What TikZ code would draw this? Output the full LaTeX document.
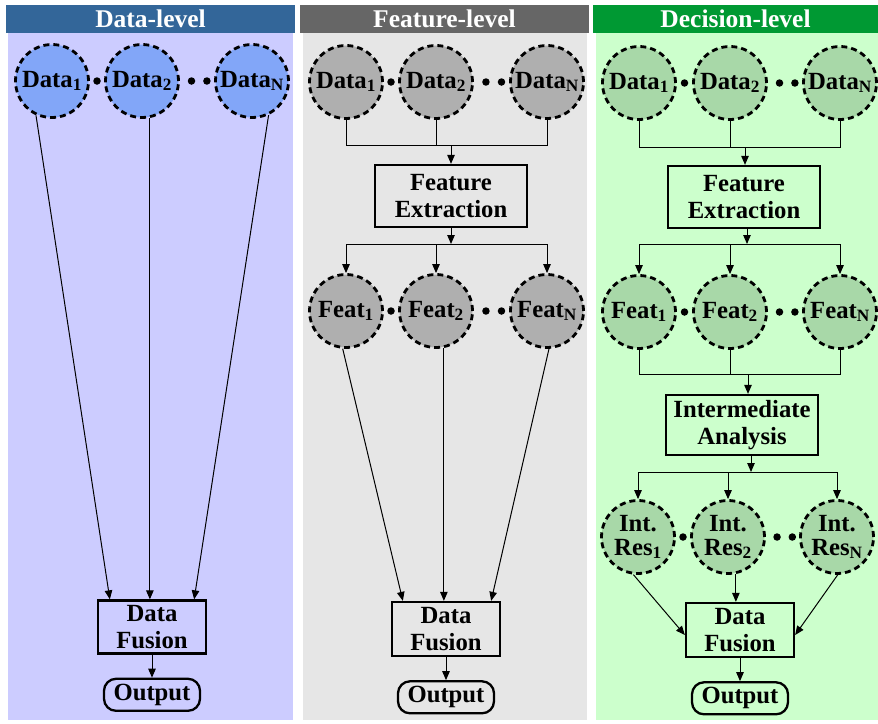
\documentclass[tikz,border=0pt]{standalone}
\usepackage{fontspec}
\setmainfont{Liberation Serif}
\usetikzlibrary{positioning,arrows.meta,calc}

\definecolor{datahead}{HTML}{336699}
\definecolor{databody}{HTML}{CCCCFF}
\definecolor{datacirc}{HTML}{82A6F8}
\definecolor{feathead}{HTML}{666666}
\definecolor{featbody}{HTML}{E6E6E6}
\definecolor{featcirc}{HTML}{AFAFAF}
\definecolor{dechead}{HTML}{009933}
\definecolor{decbody}{HTML}{CCFFCC}
\definecolor{deccirc}{HTML}{A8D8A8}

\tikzset{
  every node/.style={font=\bfseries\fontsize{24.7}{27}\selectfont},
  head/.style={text=white, minimum height=28pt, inner sep=0pt,
    font=\bfseries\fontsize{25.5}{27}\selectfont},
  src/.style={circle, draw, line width=2.8pt, dash pattern=on 6pt off 4pt,
    minimum size=73pt, inner sep=0pt, align=center,
    font=\bfseries\fontsize{24.7}{24}\selectfont},
  dotmark/.style={circle, fill=black, minimum size=7.5pt, inner sep=0pt},
  procbox/.style={draw, line width=2.3pt, align=center, inner sep=2pt},
  outbox/.style={draw, line width=2.3pt, rounded corners=12pt,
    minimum width=96pt, minimum height=32pt, inner sep=0pt},
  link/.style={line width=1pt},
  arr/.style={line width=1pt, -{Triangle[length=9pt,width=7.5pt]}}
}

\begin{document}
\begin{tikzpicture}[x=1pt, y=-1pt, node distance=23pt]

\useasboundingbox[fill=white] (0,0) rectangle (878,723);

% panel backgrounds
\fill[databody] (8,33) rectangle (293,720);
\fill[featbody] (303,33) rectangle (587,720);
\fill[decbody] (596,33) rectangle (878,720);

% headers
\node[head, fill=datahead, minimum width=289pt] (hdata) at (150.5,19) {Data-level};
\node[head, fill=feathead, minimum width=289pt] (hfeat) at (444.5,19) {Feature-level};
\node[head, fill=dechead, minimum width=285pt] (hdec) at (735.5,19) {Decision-level};

% ---------- Data-level ----------
\node[src, fill=datacirc] (dd1) at (52,81) {Data\textsubscript{1}};
\node[src, fill=datacirc] (dd2) at (142,81) {Data\textsubscript{2}};
\node[src, fill=datacirc] (dd3) at (252,81) {Data\textsubscript{N}};
\node[dotmark] (ddot1) at ($(dd1)!0.5!(dd2)$) {};
\node[dotmark] (ddot2) at ($(dd2)!0.45!(dd3)$) {};
\node[dotmark] (ddot3) at ($(dd2)!0.59!(dd3)$) {};

\node[procbox, minimum width=108pt, minimum height=53pt] (dfus) at (152,627) {Data\\Fusion};
\node[outbox, below=of dfus] (dout) {Output};

\draw[arr] (dd1.245) -- ([xshift=13pt]dfus.north west);
\draw[arr] (dd2.282) -- (dd2.282 |- dfus.north);
\draw[arr] (dd3.296) -- ([xshift=-13pt]dfus.north east);
\draw[arr] (dfus) -- (dout);

% ---------- Feature-level ----------
\node[src, fill=featcirc] (fd1) at (346,82) {Data\textsubscript{1}};
\node[src, fill=featcirc] (fd2) at (436,82) {Data\textsubscript{2}};
\node[src, fill=featcirc] (fd3) at (547,82) {Data\textsubscript{N}};
\node[dotmark] (fdot1) at ($(fd1)!0.5!(fd2)$) {};
\node[dotmark] (fdot2) at ($(fd2)!0.45!(fd3)$) {};
\node[dotmark] (fdot3) at ($(fd2)!0.59!(fd3)$) {};

\node[procbox, minimum width=152pt, minimum height=62pt] (fext) at (451,196) {Feature\\Extraction};
\coordinate (fbusA) at (451,145);
\coordinate (fbusB) at (451,244);

\node[src, fill=featcirc] (ff1) at (346,311) {Feat\textsubscript{1}};
\node[src, fill=featcirc] (ff2) at (436,311) {Feat\textsubscript{2}};
\node[src, fill=featcirc] (ff3) at (547,311) {Feat\textsubscript{N}};
\node[dotmark] (ffdot1) at ($(ff1)!0.5!(ff2)$) {};
\node[dotmark] (ffdot2) at ($(ff2)!0.45!(ff3)$) {};
\node[dotmark] (ffdot3) at ($(ff2)!0.59!(ff3)$) {};

\node[procbox, minimum width=108pt, minimum height=54pt] (ffus) at (446,629) {Data\\Fusion};
\node[outbox, below=of ffus] (fout) {Output};

\draw[link] (fd1.south) |- (fd3.south |- fbusA) -- (fd3.south);
\draw[link] (fd2.south) -- (fd2.south |- fbusA);
\draw[arr] (fbusA) -- (fext.north);
\draw[arr] (fext.south) -- (fext.south |- fbusB);
\draw[link] (ff1.north |- fbusB) -- (ff3.north |- fbusB);
\draw[arr] (ff1.north |- fbusB) -- (ff1.north);
\draw[arr] (ff2.north |- fbusB) -- (ff2.north);
\draw[arr] (ff3.north |- fbusB) -- (ff3.north);

\draw[arr] (ff1.265) -- ([xshift=12pt]ffus.north west);
\draw[arr] (ff2.282) -- (ff2.282 |- ffus.north);
\draw[arr] (ff3.273) -- ([xshift=-10pt]ffus.north east);
\draw[arr] (ffus) -- (fout);

% ---------- Decision-level ----------
\node[src, fill=deccirc] (cd1) at (639,83) {Data\textsubscript{1}};
\node[src, fill=deccirc] (cd2) at (730,83) {Data\textsubscript{2}};
\node[src, fill=deccirc] (cd3) at (840,83) {Data\textsubscript{N}};
\node[dotmark] (cdot1) at ($(cd1)!0.5!(cd2)$) {};
\node[dotmark] (cdot2) at ($(cd2)!0.45!(cd3)$) {};
\node[dotmark] (cdot3) at ($(cd2)!0.59!(cd3)$) {};

\node[procbox, minimum width=152pt, minimum height=62pt] (cext) at (744,197) {Feature\\Extraction};
\coordinate (cbusA) at (745,147);
\coordinate (cbusB) at (747,244);

\node[src, fill=deccirc] (cf1) at (639,312) {Feat\textsubscript{1}};
\node[src, fill=deccirc] (cf2) at (730,312) {Feat\textsubscript{2}};
\node[src, fill=deccirc] (cf3) at (840,312) {Feat\textsubscript{N}};
\node[dotmark] (cfdot1) at ($(cf1)!0.5!(cf2)$) {};
\node[dotmark] (cfdot2) at ($(cf2)!0.45!(cf3)$) {};
\node[dotmark] (cfdot3) at ($(cf2)!0.59!(cf3)$) {};

\node[procbox, minimum width=152pt, minimum height=60pt] (cint) at (742,425) {Intermediate\\Analysis};
\coordinate (cbusC) at (748,374);
\coordinate (cbusD) at (751,472);

\node[src, fill=deccirc] (cr1) at (638,537) {Int.\\Res\textsubscript{1}};
\node[src, fill=deccirc] (cr2) at (728,537) {Int.\\Res\textsubscript{2}};
\node[src, fill=deccirc] (cr3) at (837,537) {Int.\\Res\textsubscript{N}};
\node[dotmark] (crdot1) at ($(cr1)!0.5!(cr2)$) {};
\node[dotmark] (crdot2) at ($(cr2)!0.45!(cr3)$) {};
\node[dotmark] (crdot3) at ($(cr2)!0.59!(cr3)$) {};

\node[procbox, minimum width=108pt, minimum height=54pt] (cfus) at (740,630) {Data\\Fusion};
\node[outbox, below=of cfus] (cout) {Output};

\draw[link] (cd1.south) |- (cd3.south |- cbusA) -- (cd3.south);
\draw[link] (cd2.south) -- (cd2.south |- cbusA);
\draw[arr] (cbusA) -- (cbusA |- cext.north);
\draw[arr] (cbusB |- cext.south) -- (cbusB);
\draw[link] (cf1.north |- cbusB) -- (cf3.north |- cbusB);
\draw[arr] (cf1.north |- cbusB) -- (cf1.north);
\draw[arr] (cf2.north |- cbusB) -- (cf2.north);
\draw[arr] (cf3.north |- cbusB) -- (cf3.north);

\draw[link] (cf1.south) |- (cf3.south |- cbusC) -- (cf3.south);
\draw[link] (cf2.south) -- (cf2.south |- cbusC);
\draw[arr] (cbusC) -- (cbusC |- cint.north);
\draw[arr] (cbusD |- cint.south) -- (cbusD);
\draw[link] (cr1.north |- cbusD) -- (cr3.north |- cbusD);
\draw[arr] (cr1.north |- cbusD) -- (cr1.north);
\draw[arr] (cr2.north |- cbusD) -- (cr2.north);
\draw[arr] (cr3.north |- cbusD) -- (cr3.north);

\draw[arr] (cr1.263) -- ([yshift=-5pt]cfus.west);
\draw[arr] (cr2.282) -- (cr2.282 |- cfus.north);
\draw[arr] (cr3.271) -- ([yshift=-5pt]cfus.east);
\draw[arr] (cfus) -- (cout);

\end{tikzpicture}
\end{document}
